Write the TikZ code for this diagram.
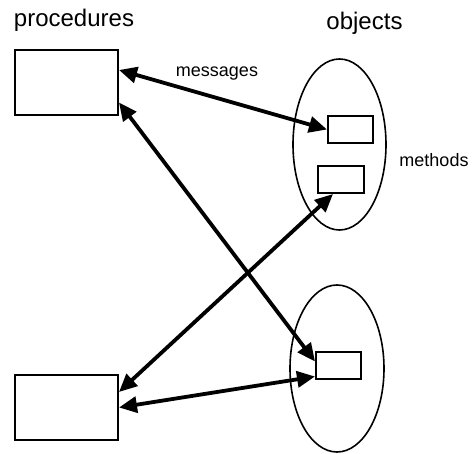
\documentclass[tikz,border=0pt]{standalone}
\usepackage{fontspec}
\setmainfont{Liberation Sans}
\usepackage{tikz}
\usetikzlibrary{
    arrows.meta,
    shapes.geometric
}

\tikzset{
    procbox/.style={draw, line width=2pt, minimum width=103pt, minimum height=65pt, inner sep=0pt},
    methbox/.style={draw, line width=2pt, minimum width=45pt, minimum height=27pt, inner sep=0pt},
    objshape/.style={draw, ellipse, line width=1.6pt, inner sep=0pt},
    msg/.style={line width=3.8pt, {Triangle[length=18pt,width=16pt]}-{Triangle[length=18pt,width=16pt]}},
    bigtext/.style={font=\fontsize{24}{28}\selectfont, anchor=base},
    smalltext/.style={font=\fontsize{18}{22}\selectfont, anchor=base}
}

\begin{document}
\begin{tikzpicture}[x=1pt,y=-1pt]
\useasboundingbox (0,0) rectangle (472,454);

% Procedures
\node[procbox] (proc1) at (66.5,82.5) {};
\node[procbox] (proc2) at (66.5,407.5) {};

% Objects
\node[objshape, minimum width=93pt, minimum height=171pt] (obj1) at (339.5,144.5) {};
\node[objshape, minimum width=94pt, minimum height=167pt] (obj2) at (337,368.5) {};

% Methods
\node[methbox] (meth1) at (350.5,129.5) {};
\node[methbox, minimum width=46pt] (meth2) at (341,179.5) {};
\node[methbox] (meth3) at (338.5,365.5) {};

% Messages
\draw[msg] ([yshift=12.5pt]proc1.east) -- (meth1.west);
\draw[msg] ([yshift=-20pt]proc1.east) -- ([yshift=4pt]meth3.west);
\draw[msg] ([yshift=15.5pt]proc2.east) -- ([xshift=-8pt]meth2.south);
\draw[msg] (proc2.east) -- ([yshift=-11pt]meth3.west);

% Labels
\node[bigtext] (proclabel) at (74,27) {procedures};
\node[bigtext] (objlabel) at (364.5,30) {objects};
\node[smalltext] (msglabel) at (217,77) {messages};
\node[smalltext] (methlabel) at (434,167) {methods};

\end{tikzpicture}
\end{document}
